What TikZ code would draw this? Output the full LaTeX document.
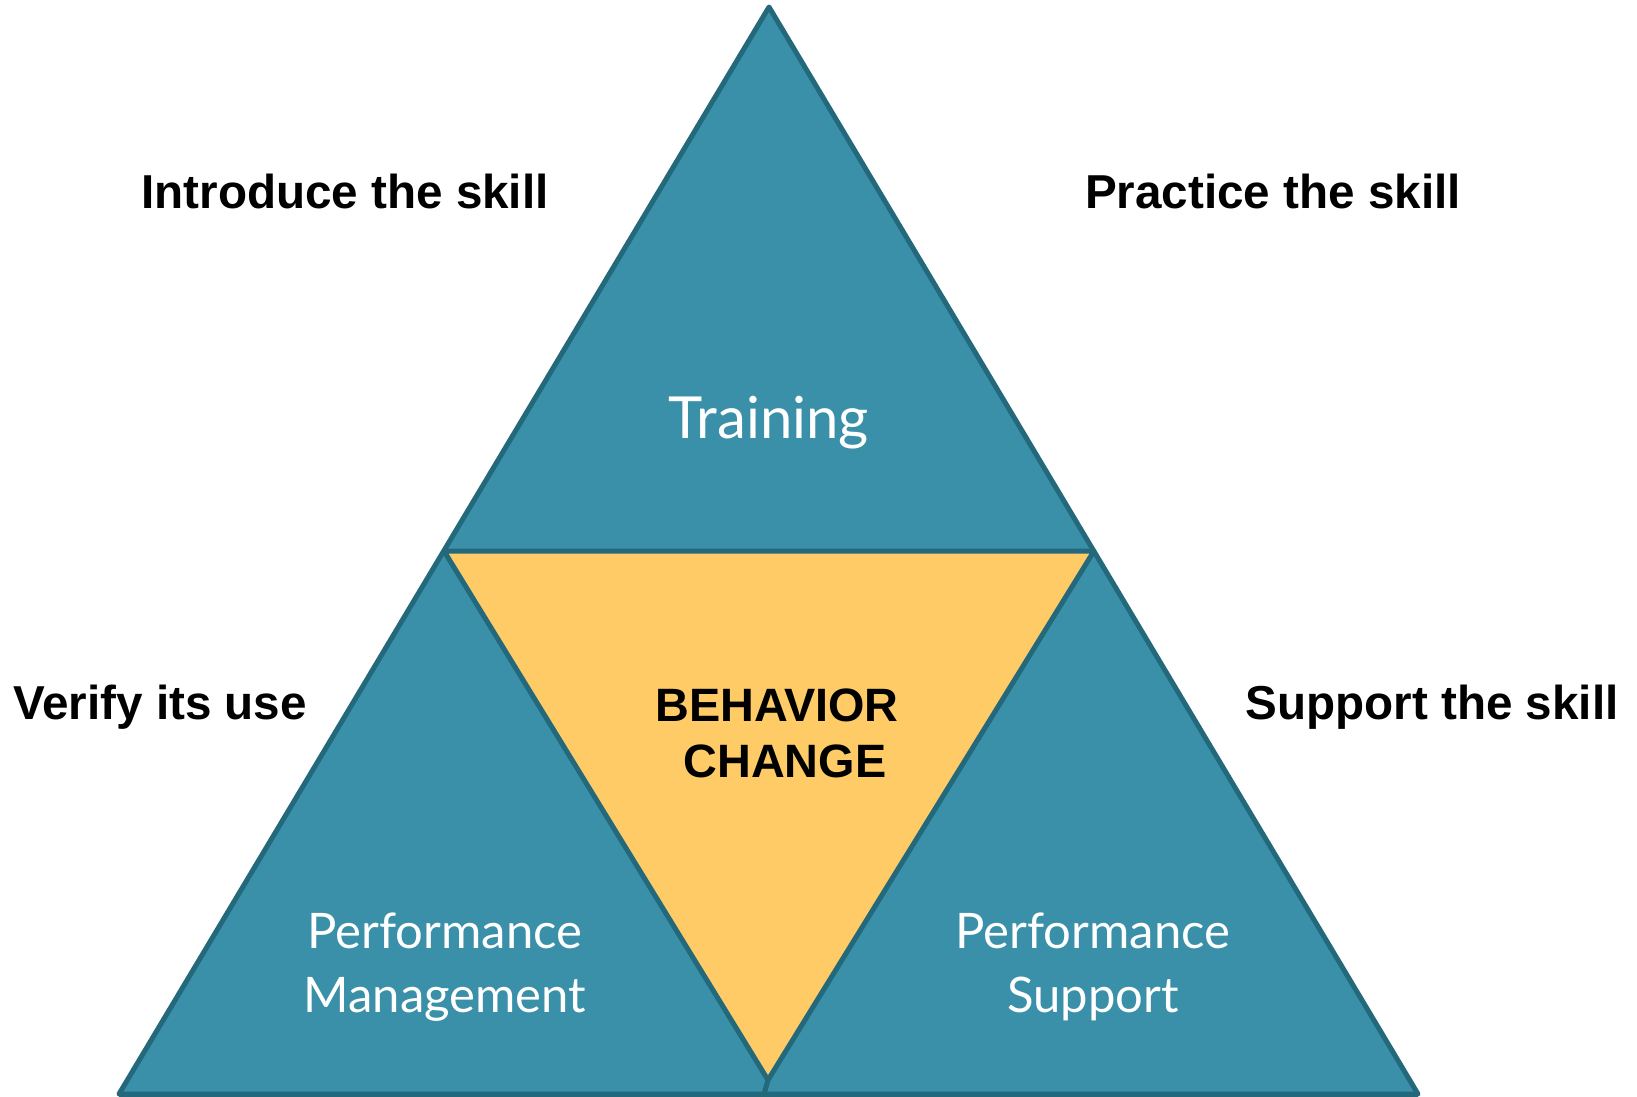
\documentclass[tikz,border=0pt]{standalone}
\usepackage{fontspec}
\setmainfont{Liberation Sans}
\newfontfamily\gillish{Lato}
\definecolor{tealfill}{HTML}{3A90A8}
\definecolor{tealline}{HTML}{23697B}
\definecolor{yellowfill}{HTML}{FECB67}
\begin{document}
\begin{tikzpicture}[x=1pt,y=-1pt,
  tri/.style={fill=tealfill,draw=tealline,line width=5pt,line join=round},
  ytri/.style={fill=yellowfill,draw=tealline,line width=5pt,line join=round},
  sidelabel/.style={font=\fontsize{47.6}{56}\selectfont\bfseries,text=black,inner sep=0pt},
  centerlabel/.style={font=\fontsize{46.8}{55}\selectfont\bfseries,text=black,inner sep=0pt},
  partlabel/.style={font=\gillish\fontsize{49}{64}\selectfont,text=white,inner sep=0pt,align=center}]
\useasboundingbox (0,0) rectangle (1637,1096);
% corners
\coordinate (A) at (769,7);
\coordinate (L) at (119,1094);
\coordinate (R) at (1418,1094);
\coordinate (ML) at (444,551);
\coordinate (MR) at (1094,551);
\coordinate (MB) at (764,1094);
\coordinate (YB) at (768,1080);
% big triangle
\draw[tri] (A) -- (R) -- (L) -- cycle;
% inner yellow triangle
\draw[ytri] (ML) -- (MR) -- (YB) -- cycle;
\draw[draw=tealline,line width=5pt] (YB) -- (MB);
% redraw base so it stays on top
\draw[draw=tealline,line width=5pt] (L) -- (R);
% labels
\node[partlabel,font=\gillish\fontsize{58}{64}\selectfont] (training) at (769,423) {Training};
\node[partlabel] (pm) at (445,967) {Performance\\Management};
\node[partlabel] (ps) at (1093,967) {Performance\\Support};
\node[centerlabel] (beh) at (777,705) {BEHAVIOR};
\node[centerlabel] (chg) at (785,761) {CHANGE};
\node[sidelabel] (intro) at (345,191) {Introduce the skill};
\node[sidelabel] (prac) at (1273,191) {Practice the skill};
\node[sidelabel] (ver) at (160,707) {Verify its use};
\node[sidelabel] (supp) at (1432,707) {Support the skill};
\end{tikzpicture}
\end{document}
